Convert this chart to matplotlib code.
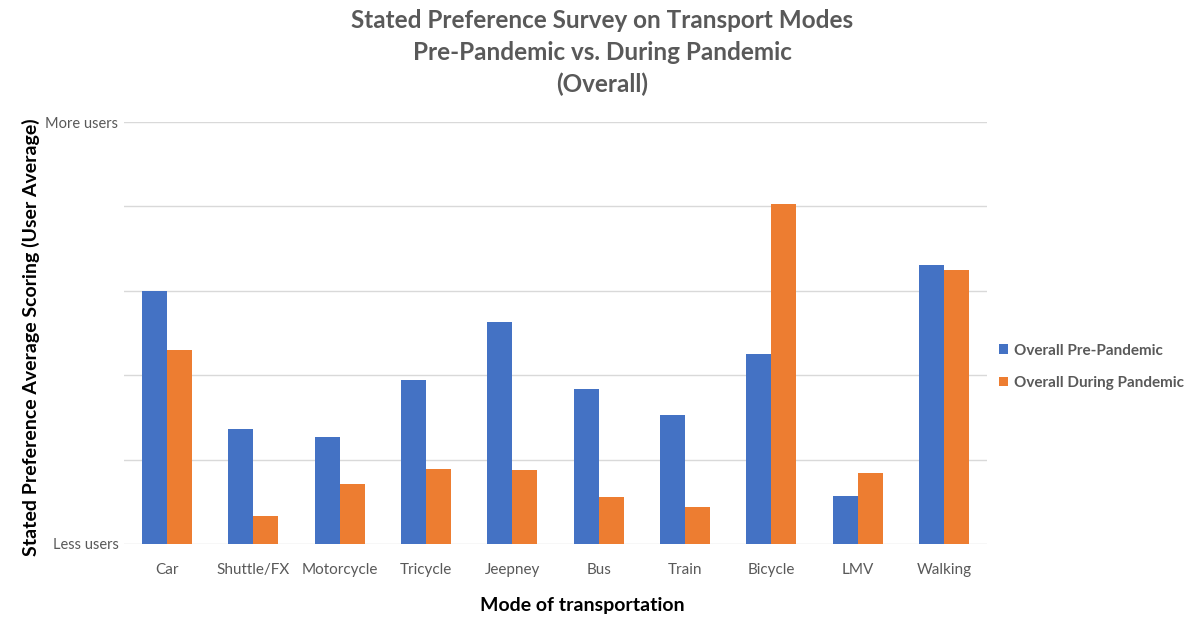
import numpy as np
import matplotlib.pyplot as plt

plt.rcParams['font.family'] = ['Lato', 'DejaVu Sans']

modes = ["Car", "Shuttle/FX", "Motorcycle", "Tricycle", "Jeepney",
         "Bus", "Train", "Bicycle", "LMV", "Walking"]
pre_pandemic = [3.00, 1.36, 1.27, 1.94, 2.63, 1.84, 1.53, 2.25, 0.57, 3.31]
during_pandemic = [2.30, 0.33, 0.71, 0.89, 0.88, 0.56, 0.44, 4.03, 0.84, 3.25]
series_names = ["Overall Pre-Pandemic", "Overall During Pandemic"]
y_tick_labels = ["Less users", "", "", "", "", "More users"]

blue = "#4472c4"
orange = "#ed7d31"
gray = "#595959"

fig = plt.figure(figsize=(12, 6.21), dpi=100)
ax = fig.add_axes([0.1033, 0.124, 0.7192, 0.6795])

x = np.arange(len(modes))
w = 0.29
ax.bar(x - w / 2, pre_pandemic, w, color=blue, label=series_names[0], zorder=3)
ax.bar(x + w / 2, during_pandemic, w, color=orange, label=series_names[1], zorder=3)

ax.set_xlim(-0.5, len(modes) - 0.5)
ax.set_ylim(0, 5)
ax.set_yticks(range(6))
ax.set_yticklabels(y_tick_labels, color=gray, fontsize=10.5)
ax.set_xticks(x)
ax.set_xticklabels(modes, color=gray, fontsize=11)
ax.tick_params(length=0)
ax.tick_params(axis='x', pad=14)
ax.tick_params(axis='y', pad=4)
ax.yaxis.grid(True, color="#d9d9d9", linewidth=1, zorder=0)
for s in ax.spines.values():
    s.set_visible(False)

ax.set_xlabel("Mode of transportation", fontsize=14, fontweight='bold')
ax.xaxis.set_label_coords(0.531, -0.126)
ax.set_ylabel("Stated Preference Average Scoring (User Average)", fontsize=14,
              fontweight='bold')
ax.yaxis.set_label_coords(-0.097, 0.49)

fig.text(0.502, 0.985, "Stated Preference Survey on Transport Modes\nPre-Pandemic vs. During Pandemic\n(Overall)",
         ha='center', va='top', fontsize=17.5, fontweight='bold', color=gray, linespacing=1.45)

leg = ax.legend(loc='center left', bbox_to_anchor=(0.998, 0.42), frameon=False,
                fontsize=11, handlelength=0.6, handleheight=0.6, handletextpad=0.4,
                labelspacing=1.2)
for t in leg.get_texts():
    t.set_color(gray)
    t.set_fontweight('bold')

fig.savefig("out.png", dpi=100)
